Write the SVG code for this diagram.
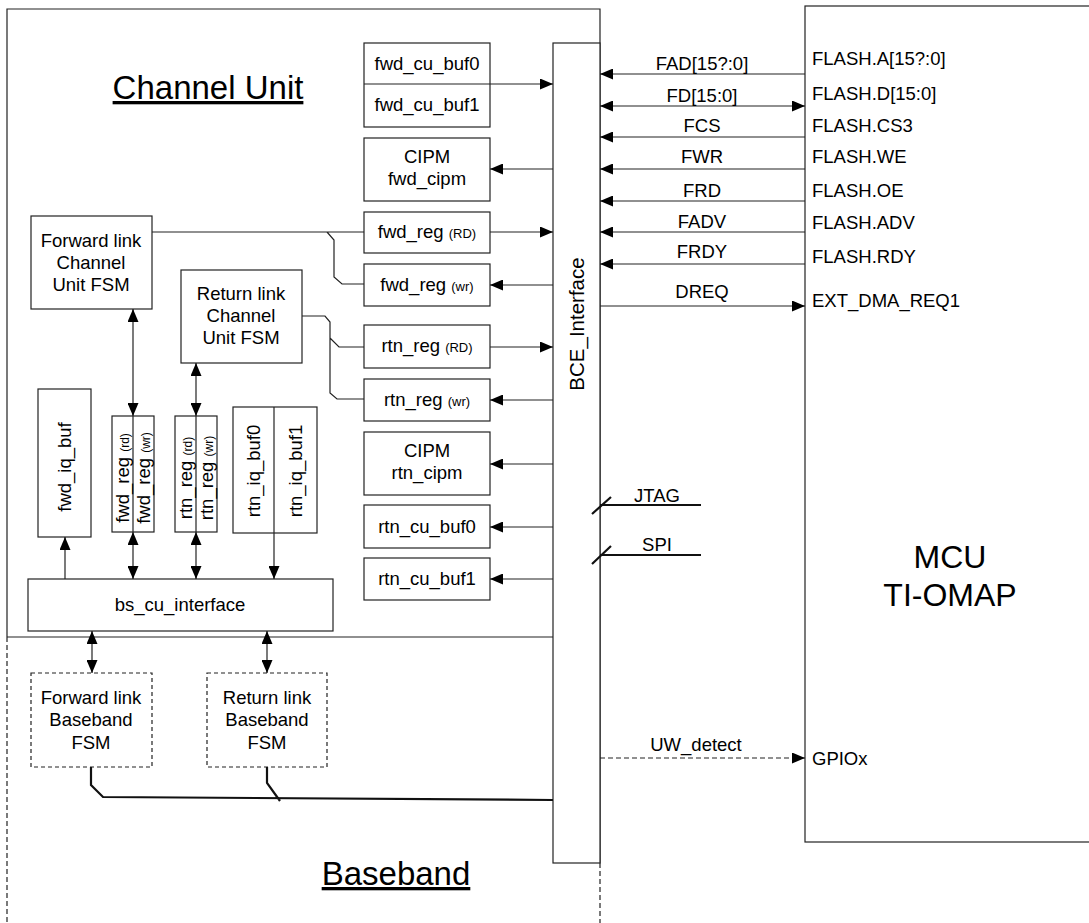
<svg xmlns="http://www.w3.org/2000/svg" width="1089" height="923" viewBox="0 0 1089 923">
<style>
text{font-family:"Liberation Sans",Arial,sans-serif;fill:#000;font-size:18.5px}
.c{text-anchor:middle}
.s{font-size:13px}
.b{fill:#fff;stroke:#222;stroke-width:1.2}
.d{fill:#fff;stroke:#222;stroke-width:1.2;stroke-dasharray:4 3}
.l{fill:none;stroke:#222;stroke-width:1.2}
.dl{fill:none;stroke:#222;stroke-width:1.2;stroke-dasharray:5 3}
.k{fill:none;stroke:#111;stroke-width:2.2}
.big{font-size:33px}
.u{text-decoration:underline}
</style>
<defs>
<marker id="a" markerWidth="13" markerHeight="11" refX="13" refY="5.5" orient="auto-start-reverse" markerUnits="userSpaceOnUse">
<path d="M0,0 L13,5.5 L0,11 z" fill="#000"/>
</marker>
</defs>

<g id="baseband-region">
<path class="dl" d="M7,637 V923 M600,863 V923"/>
<text class="big c u" x="396" y="885">Baseband</text>
</g>

<g id="channel-unit">
<path class="l" d="M7,637 V9 H600 V863 M7,637 H553"/>
<text class="big c u" x="208" y="99">Channel Unit</text>
</g>

<g id="mcu">
<rect class="b" x="805" y="6" width="300" height="836"/>
<text class="c" style="font-size:32px" x="950" y="568">MCU</text>
<text class="c" style="font-size:32px" x="950" y="606">TI-OMAP</text>
<text x="812" y="65">FLASH.A[15?:0]</text>
<text x="812" y="100">FLASH.D[15:0]</text>
<text x="812" y="132">FLASH.CS3</text>
<text x="812" y="163">FLASH.WE</text>
<text x="812" y="197">FLASH.OE</text>
<text x="812" y="229">FLASH.ADV</text>
<text x="812" y="263">FLASH.RDY</text>
<text x="812" y="307">EXT_DMA_REQ1</text>
<text x="812" y="765">GPIOx</text>
</g>

<g id="bce-interface">
<rect class="b" x="553" y="43" width="47" height="820"/>
<text class="c" style="font-size:20.5px" transform="translate(584,324) rotate(-90)">BCE_Interface</text>
</g>

<g id="fwd-cu-buf">
<rect class="b" x="364" y="43" width="126" height="84"/>
<line class="l" x1="364" y1="84" x2="490" y2="84"/>
<text class="c" x="427" y="70">fwd_cu_buf0</text>
<text class="c" x="427" y="111">fwd_cu_buf1</text>
</g>

<g id="fwd-cipm">
<rect class="b" x="364" y="138" width="126" height="63"/>
<text class="c" x="427" y="163">CIPM</text>
<text class="c" x="427" y="185">fwd_cipm</text>
</g>

<g id="fwd-reg-rd">
<rect class="b" x="364" y="212" width="126" height="41"/>
<text class="c" x="427" y="238">fwd_reg <tspan class="s">(RD)</tspan></text>
</g>

<g id="fwd-reg-wr">
<rect class="b" x="364" y="264" width="126" height="42"/>
<text class="c" x="427" y="291">fwd_reg <tspan class="s">(wr)</tspan></text>
</g>

<g id="rtn-reg-rd">
<rect class="b" x="364" y="325" width="126" height="43"/>
<text class="c" x="427" y="352">rtn_reg <tspan class="s">(RD)</tspan></text>
</g>

<g id="rtn-reg-wr">
<rect class="b" x="364" y="379" width="126" height="42"/>
<text class="c" x="427" y="406">rtn_reg <tspan class="s">(wr)</tspan></text>
</g>

<g id="rtn-cipm">
<rect class="b" x="364" y="432" width="126" height="63"/>
<text class="c" x="427" y="457">CIPM</text>
<text class="c" x="427" y="479">rtn_cipm</text>
</g>

<g id="rtn-cu-buf0">
<rect class="b" x="364" y="505" width="126" height="43"/>
<text class="c" x="427" y="533">rtn_cu_buf0</text>
</g>

<g id="rtn-cu-buf1">
<rect class="b" x="364" y="558" width="126" height="42"/>
<text class="c" x="427" y="585">rtn_cu_buf1</text>
</g>

<g id="fwd-cu-fsm">
<rect class="b" x="31" y="216" width="121" height="93"/>
<text class="c" x="91" y="247">Forward link</text>
<text class="c" x="91" y="269">Channel</text>
<text class="c" x="91" y="291">Unit FSM</text>
</g>

<g id="rtn-cu-fsm">
<rect class="b" x="181" y="270" width="121" height="93"/>
<text class="c" x="241" y="300">Return link</text>
<text class="c" x="241" y="322">Channel</text>
<text class="c" x="241" y="344">Unit FSM</text>
</g>

<g id="fwd-iq-buf">
<rect class="b" x="38" y="389" width="53" height="148"/>
<text class="c" transform="translate(71,467) rotate(-90)">fwd_iq_buf</text>
</g>

<g id="fwd-reg-col">
<rect class="b" x="112" y="416" width="42" height="116"/>
<line class="l" x1="133" y1="416" x2="133" y2="532"/>
<text class="c" transform="translate(128.5,478) rotate(-90)">fwd_reg <tspan style="font-size:12px">(rd)</tspan></text>
<text class="c" transform="translate(149.5,478) rotate(-90)">fwd_reg <tspan style="font-size:12px">(wr)</tspan></text>
</g>

<g id="rtn-reg-col">
<rect class="b" x="175" y="416" width="42" height="116"/>
<line class="l" x1="196" y1="416" x2="196" y2="532"/>
<text class="c" transform="translate(191.5,478) rotate(-90)">rtn_reg <tspan style="font-size:12px">(rd)</tspan></text>
<text class="c" transform="translate(212.5,478) rotate(-90)">rtn_reg <tspan style="font-size:12px">(wr)</tspan></text>
</g>

<g id="rtn-iq-buf">
<rect class="b" x="233" y="407" width="84" height="126"/>
<line class="l" x1="274" y1="407" x2="274" y2="533"/>
<text class="c" transform="translate(259.5,471) rotate(-90)">rtn_iq_buf0</text>
<text class="c" transform="translate(301.5,471) rotate(-90)">rtn_iq_buf1</text>
</g>

<g id="bs-cu-interface">
<rect class="b" x="28" y="579" width="305" height="52"/>
<text class="c" x="180" y="611">bs_cu_interface</text>
</g>

<g id="fwd-bb-fsm">
<rect class="d" x="31" y="673" width="121" height="94"/>
<text class="c" x="91" y="704">Forward link</text>
<text class="c" x="91" y="726">Baseband</text>
<text class="c" x="91" y="749">FSM</text>
</g>

<g id="rtn-bb-fsm">
<rect class="d" x="207" y="673" width="120" height="94"/>
<text class="c" x="267" y="704">Return link</text>
<text class="c" x="267" y="726">Baseband</text>
<text class="c" x="267" y="749">FSM</text>
</g>

<g id="connectors">
<line class="l" x1="490" y1="84" x2="553" y2="84" marker-end="url(#a)"/>
<line class="l" x1="553" y1="169" x2="490" y2="169" marker-end="url(#a)"/>
<line class="l" x1="490" y1="232" x2="553" y2="232" marker-end="url(#a)"/>
<line class="l" x1="553" y1="285" x2="490" y2="285" marker-end="url(#a)"/>
<line class="l" x1="490" y1="347" x2="553" y2="347" marker-end="url(#a)"/>
<line class="l" x1="553" y1="400" x2="490" y2="400" marker-end="url(#a)"/>
<line class="l" x1="553" y1="464" x2="490" y2="464" marker-end="url(#a)"/>
<line class="l" x1="553" y1="527" x2="490" y2="527" marker-end="url(#a)"/>
<line class="l" x1="553" y1="579" x2="490" y2="579" marker-end="url(#a)"/>
<path class="l" d="M152,232 H364 M327,232 L334,240 V277 L342,284 H364"/>
<path class="l" d="M302,316 H325 L330,322 V393 L337,399 H364 M330,338 L339,347 H364"/>
<line class="l" x1="133" y1="309" x2="133" y2="416" marker-start="url(#a)" marker-end="url(#a)"/>
<line class="l" x1="196" y1="363" x2="196" y2="416" marker-start="url(#a)" marker-end="url(#a)"/>
<line class="l" x1="133" y1="532" x2="133" y2="579" marker-start="url(#a)" marker-end="url(#a)"/>
<line class="l" x1="196" y1="532" x2="196" y2="579" marker-start="url(#a)" marker-end="url(#a)"/>
<line class="l" x1="65" y1="579" x2="65" y2="537" marker-end="url(#a)"/>
<line class="l" x1="274" y1="533" x2="274" y2="579" marker-end="url(#a)"/>
<line class="l" x1="92" y1="631" x2="92" y2="673" marker-start="url(#a)" marker-end="url(#a)"/>
<line class="l" x1="267" y1="631" x2="267" y2="673" marker-start="url(#a)" marker-end="url(#a)"/>
<path class="k" d="M91,767 V785 L103,797 L553,800 M267,767 V783 L280,801"/>
<line class="l" x1="805" y1="74" x2="600" y2="74" marker-end="url(#a)"/>
<line class="l" x1="600" y1="106" x2="805" y2="106" marker-start="url(#a)" marker-end="url(#a)"/>
<line class="l" x1="805" y1="137" x2="600" y2="137" marker-end="url(#a)"/>
<line class="l" x1="805" y1="169" x2="600" y2="169" marker-end="url(#a)"/>
<line class="l" x1="805" y1="201" x2="600" y2="201" marker-end="url(#a)"/>
<line class="l" x1="805" y1="232" x2="600" y2="232" marker-end="url(#a)"/>
<line class="l" x1="805" y1="264" x2="600" y2="264" marker-end="url(#a)"/>
<line class="l" x1="600" y1="306" x2="805" y2="306" marker-end="url(#a)"/>
<text class="c" x="702" y="70">FAD[15?:0]</text>
<text class="c" x="702" y="102">FD[15:0]</text>
<text class="c" x="702" y="132">FCS</text>
<text class="c" x="702" y="163">FWR</text>
<text class="c" x="702" y="197">FRD</text>
<text class="c" x="702" y="228">FADV</text>
<text class="c" x="702" y="258">FRDY</text>
<text class="c" x="702" y="298">DREQ</text>
<path class="k" d="M600,505 H701 M592,514 L611,497 M600,555 H701 M592,564 L611,546"/>
<text class="c" x="657" y="502">JTAG</text>
<text class="c" x="657" y="551">SPI</text>
<line class="dl" x1="600" y1="758" x2="805" y2="758" marker-end="url(#a)"/>
<text class="c" x="696" y="751">UW_detect</text>
</g>
</svg>
